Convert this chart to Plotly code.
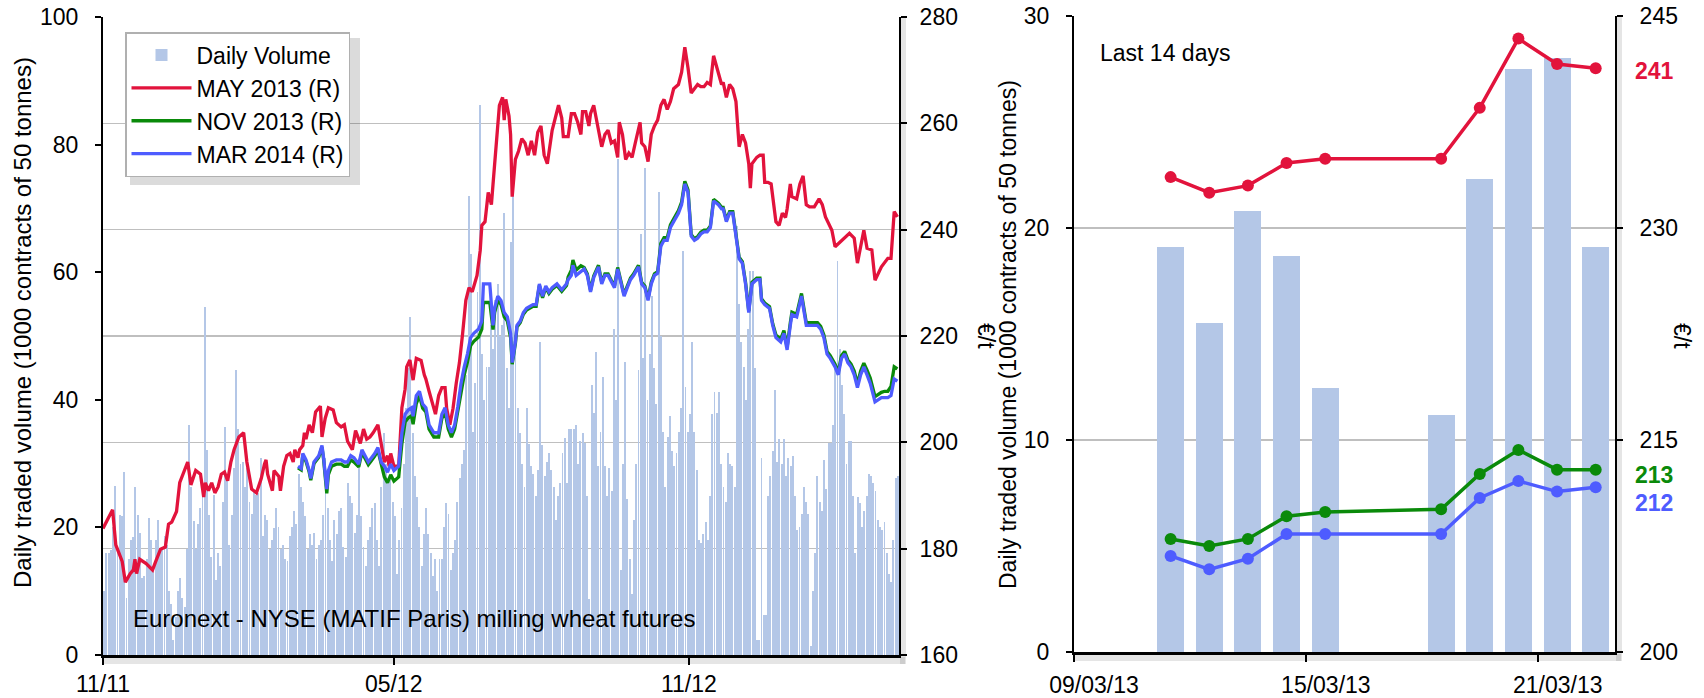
import pandas as pd
import plotly.graph_objects as go

W, H = 1704, 698
FONT = "Liberation Sans, Arial, Helvetica, sans-serif"

BAR = "#B4C7E7"
RED = "#E2133C"
GREEN = "#0A8A0A"
BLUE = "#4E5CFF"
GRID = "#BFBFBF"

# ---------------- left chart data ----------------
start_date = "2011-11-01"
axis_end_date = "2013-03-13"
left_tick_dates = ["2011-11-01", "2012-05-01", "2012-11-01"]
left_tick_labels = ["11/11", "05/12", "11/12"]

# daily traded volume (1000 contracts), one value per trading day from 2011-11-01
daily_volume = [
    10, 16, 16, 16.5, 20, 26.5, 17, 22, 21.8, 28.7,
    9, 15, 18, 18.5, 26.4, 22, 19.2, 12, 12.4, 15,
    21.5, 18, 14, 18, 21.2, 16.6, 17, 18.6, 17.3, 10,
    8, 2.3, 6, 10.1, 12, 9, 7.5, 16.6, 36.1, 26.4,
    21, 16.6, 20.5, 23, 25.7, 54.6, 32.2, 22, 15.3, 25.1,
    11.8, 16, 14, 24, 35.8, 27.7, 17.3, 22, 29.3, 44.6,
    35.5, 30, 30.3, 26.4, 29.3, 24, 22.1, 25.7, 25.1, 25.4,
    30.9,
    18.6, 22, 21.2, 16.6, 18, 19.9, 23.1, 20, 16.6, 17.3,
    15, 14.7, 18.6, 20, 22.5, 20.5, 28.3, 26.4, 24, 21.8,
    16.6, 19, 17.3, 19.2, 15, 17.3, 18, 22, 30.9, 23.1,
    18, 14.7, 21.2, 19, 22.5, 23.1, 17, 15.3, 27, 25,
    23.8, 19.2, 22, 29.6, 21.8, 17, 14, 18, 20, 23.1,
    23.8, 18, 14, 26.4, 34.8, 30, 27.7, 27.7, 24, 21.8,
    12.7, 18, 23.1, 30, 38.7, 45, 53, 34.8, 28,
    24.8, 20, 14, 19, 23.1, 18.9, 16, 12.4, 15, 10,
    15, 15, 20, 23.8, 22.1, 13.4, 16, 18, 24, 27.7,
    30, 32.2, 43.9, 71.9, 62.8, 35, 42.6, 56.9, 86.2, 47.2,
    40, 45.2, 45.2, 51.7, 48, 55.6, 58.2, 50, 51.7, 69.3,
    45, 38.7, 64.7, 71.9, 50, 38.7, 34.8, 30, 26.4, 38.7,
    33, 29.6, 28.3, 25, 29, 49.1, 32.9, 28, 30.3, 31.6,
    29, 26.4, 21.2, 25, 27, 31.6, 34, 27, 35.5,
    35.5, 35.5, 36.1, 30, 33.5, 34.8, 33.2, 25, 8.8, 42.3,
    38, 47.5, 29.6, 35, 43.6, 29.6, 25, 29.3, 25.7, 51.1,
    40, 77.7, 13.4, 30, 45.9, 24.4, 15, 9.5, 21.2, 30,
    44.6, 66, 46.5, 76.4, 40, 47.2, 56.3, 45, 39.4, 72.5,
    50, 35, 26.4, 34.2, 37.4, 32, 29.6, 31.6, 35, 38.7,
    63.4, 42, 35, 37.7, 49.1, 35, 29, 18, 17.6, 19,
    20.8, 18, 25, 37.7, 41.3, 38, 41.3, 30, 26.4, 24,
    31.6, 30, 29.6, 26.4, 67.3, 55, 49.1, 45.2, 40, 51.1,
    60.2, 60.2, 45, 2.3, 2.3, 30.9, 6.2, 6.2, 25, 28,
    31.9, 41.6, 30.3, 33.8, 30, 33.8, 28, 30.9, 29.6, 31.2,
    25, 19.6, 20, 22.1, 26.4, 24, 22.1, 1.4, 10, 16,
    28, 24, 22.5, 30.6, 26, 33.2, 33.2, 36, 45.9, 61.8,
    48, 42.3, 37.7, 30, 33.5, 33.5, 25, 16, 24.8, 23.8,
    20, 22.5, 25, 28.3, 28, 27, 25.7, 21.2, 20, 19.6,
    20.8, 16, 12.7, 11.5, 18, 27.7, 28,
]

# MAY 2013 contract (EUR/t): day offset from start_date, price
may13_day = [
    0, 6, 8, 12, 14, 17, 19, 20, 21, 23,
    27, 31, 33, 36, 39, 41, 43, 46, 48, 51,
    53, 55, 57, 58, 61, 63, 64, 66, 68, 70,
    72, 74, 76, 78, 80, 82, 85, 88, 90, 93,
    96, 99, 101, 102, 103, 105, 106, 107, 110, 111,
    113, 115, 117, 119, 120, 122, 123, 125, 126, 127,
    129, 131, 133, 136, 137, 139, 141, 144, 146, 149,
    151, 153, 156, 158, 161, 163, 165, 167, 169, 172,
    174, 176, 178, 179, 180, 182, 185, 187, 189, 190,
    192, 194, 196, 199, 201, 202, 204, 206, 208, 210,
    212, 214, 215, 217, 219, 221, 223, 225, 227, 229,
    231, 234, 236, 237, 239, 241, 243, 244, 246, 248,
    250, 251, 252, 254, 255, 256, 258, 260, 262, 264,
    266, 268, 270, 272, 274, 276, 278, 281, 285, 287,
    288, 291, 293, 295, 297, 299, 300, 302, 304, 305,
    307, 310, 312, 314, 316, 318, 320, 322, 323, 325,
    327, 329, 331, 333, 336, 337, 339, 341, 343, 345,
    347, 349, 351, 353, 355, 357, 360, 362, 364, 366,
    368, 370, 372, 374, 376, 378, 380, 382, 385, 387,
    388, 390, 392, 394, 396, 397, 398, 400, 402, 404,
    405, 406, 409, 411, 413, 414, 416, 418, 419, 421,
    423, 425, 427, 428, 430, 431, 434, 436, 438, 440,
    442, 445, 448, 450, 452, 456, 458, 463, 467, 470,
    472, 476, 478, 481, 483, 487, 491, 493, 495, 497,
]
may13_price = [
    183.8, 187.3, 180.7, 177.6, 173.7, 175.3, 176.0, 178.0, 175.3, 178.0,
    177.2, 176.0, 177.6, 179.9, 180.3, 184.6, 185.0, 187.0, 192.4, 194.7,
    196.3, 192.0, 194.0, 194.7, 194.0, 189.7, 192.4, 190.9, 192.4, 190.5,
    191.6, 194.0, 194.4, 192.8, 196.3, 198.6, 201.0, 201.8, 196.3, 191.2,
    190.5, 193.2, 195.9, 196.7, 194.0, 191.6, 190.9, 194.7, 193.6, 190.9,
    195.5, 197.5, 197.9, 196.3, 198.6, 197.1, 198.6, 199.4, 201.8, 200.6,
    203.3, 201.8, 205.7, 206.8, 201.0, 204.5, 206.5, 206.1, 203.7, 202.9,
    203.3, 200.2, 198.6, 202.2, 199.8, 202.5, 200.6, 201.0, 201.8, 203.3,
    199.4, 196.3, 197.5, 195.5, 197.9, 195.5, 195.5, 206.5, 210.0, 214.2,
    215.5, 211.7, 215.8, 215.4, 212.7, 211.9, 209.6, 207.6, 205.3, 208.8,
    210.3, 210.3, 206.4, 203.3, 206.4, 211.1, 215.0, 220.5, 226.7, 229.1,
    228.3, 231.4, 236.1, 240.8, 241.5, 247.0, 244.7, 248.5, 255.6, 263.4,
    264.9, 260.6, 264.5, 261.4, 257.9, 246.2, 253.2, 254.8, 257.1, 256.3,
    254.0, 256.7, 254.0, 258.3, 259.5, 254.0, 252.4, 258.7, 263.4, 261.0,
    257.5, 257.5, 261.8, 261.8, 260.2, 257.9, 262.2, 262.2, 259.5, 261.8,
    263.4, 259.1, 255.6, 257.9, 258.7, 256.3, 256.7, 253.6, 260.2, 257.9,
    253.2, 254.4, 253.6, 256.3, 260.2, 256.3, 255.6, 252.8, 257.9, 259.5,
    260.6, 263.4, 264.5, 262.6, 264.1, 266.5, 267.3, 269.6, 274.3, 270.4,
    265.7, 266.5, 267.3, 266.9, 266.9, 267.7, 267.3, 272.7, 269.6, 267.3,
    267.7, 264.9, 267.3, 266.5, 264.1, 258.7, 255.6, 257.9, 256.3, 252.4,
    247.8, 252.4, 253.6, 254.0, 254.0, 248.9, 248.9, 248.6, 245.8, 241.5,
    240.8, 243.1, 242.3, 243.9, 248.6, 246.2, 245.8, 248.6, 250.1, 244.7,
    244.3, 244.3, 245.8, 244.7, 242.4, 239.9, 236.8, 238.1, 239.3, 238.4,
    233.7, 239.9, 236.5, 236.2, 230.5, 233.0, 234.6, 234.6, 243.4, 242.4,
]

# NOV 2013 and MAR 2014 contracts (EUR/t), shared day offsets
later_day = [
    122, 124, 125, 127, 129, 130, 132, 135, 137, 138,
    140, 141, 143, 146, 149, 151, 153, 155, 157, 160,
    162, 164, 166, 168, 170, 172, 174, 176, 178, 180,
    182, 185, 187, 189, 191, 193, 194, 196, 198, 200,
    202, 204, 207, 210, 212, 214, 216, 218, 220, 222,
    224, 226, 228, 230, 232, 235, 237, 238, 240, 242,
    244, 245, 247, 249, 251, 253, 255, 256, 258, 259,
    261, 263, 265, 267, 269, 271, 273, 275, 277, 279,
    281, 284, 287, 290, 291, 293, 294, 296, 299, 301,
    303, 305, 307, 310, 312, 314, 316, 318, 320, 322,
    324, 326, 328, 330, 332, 335, 337, 339, 341, 343,
    345, 347, 349, 351, 353, 355, 357, 360, 362, 364,
    366, 368, 370, 372, 374, 376, 378, 380, 382, 385,
    387, 388, 390, 392, 394, 396, 398, 400, 402, 404,
    406, 409, 411, 412, 414, 417, 419, 421, 424, 426,
    428, 430, 431, 434, 437, 440, 443, 447, 449, 451,
    453, 455, 458, 460, 462, 464, 466, 468, 470, 472,
    474, 476, 478, 480, 483, 485, 487, 489, 491, 493,
    495, 497,
]
nov13_price = [
    195.2, 194.8, 197.6, 196.4, 194.4, 192.9, 196.0, 197.2, 199.1, 196.8,
    190.4, 193.9, 195.5, 195.9, 195.9, 195.5, 195.5, 196.7, 196.3, 195.4,
    198.1, 197.0, 195.8, 196.6, 197.4, 198.5, 195.8, 193.5, 192.4, 193.9,
    192.7, 193.5, 199.8, 203.8, 204.6, 205.0, 203.4, 207.3, 208.8, 206.4,
    205.7, 202.5, 201.0, 201.0, 204.5, 205.7, 202.5, 201.0, 202.5, 206.0,
    209.6, 212.7, 215.1, 218.2, 219.0, 219.8, 221.3, 226.3, 226.3, 226.3,
    221.2, 224.4, 226.7, 225.9, 223.6, 222.8, 219.7, 214.7, 218.6, 221.7,
    222.5, 224.1, 224.9, 225.3, 225.6, 225.6, 229.5, 227.2, 229.1, 228.0,
    228.8, 229.5, 228.4, 229.5, 231.1, 232.4, 234.3, 232.4, 233.2, 232.9,
    231.7, 228.6, 231.3, 233.3, 230.1, 231.7, 231.7, 230.5, 229.4, 232.9,
    230.1, 227.8, 229.4, 230.9, 231.7, 233.3, 230.1, 229.4, 227.0, 230.1,
    231.7, 232.1, 237.4, 238.5, 238.5, 240.9, 242.0, 243.6, 245.2, 249.1,
    247.5, 239.1, 238.3, 238.7, 239.5, 239.9, 239.9, 240.7, 245.7, 245.0,
    244.2, 244.2, 241.8, 243.4, 243.4, 239.5, 234.8, 234.0, 230.1, 224.7,
    230.1, 230.9, 230.9, 227.0, 226.2, 225.5, 222.3, 220.2, 219.4, 221.0,
    217.9, 222.5, 224.5, 224.1, 228.0, 222.5, 222.5, 222.5, 221.8, 220.2,
    217.1, 216.3, 214.7, 213.2, 216.3, 217.1, 215.5, 214.7, 213.4, 211.0,
    213.4, 214.9, 213.6, 212.1, 208.6, 209.0, 209.4, 209.6, 209.6, 210.5,
    214.2, 213.8,
]
mar14_price = [
    195.5, 195.1, 197.9, 196.7, 194.7, 193.2, 196.3, 197.5, 199.4, 197.1,
    191.2, 194.7, 196.3, 196.7, 196.7, 196.3, 196.3, 197.5, 197.1, 195.9,
    198.6, 197.5, 196.3, 197.1, 197.9, 199.0, 196.3, 195.5, 194.4, 195.9,
    194.7, 195.5, 201.8, 205.3, 206.1, 206.5, 204.9, 208.8, 209.6, 207.2,
    206.5, 203.3, 201.8, 201.8, 205.3, 206.5, 203.3, 201.8, 203.3, 206.8,
    211.1, 214.2, 216.6, 219.7, 220.5, 221.3, 222.8, 229.8, 229.8, 229.8,
    222.0, 225.2, 227.5, 226.7, 224.4, 223.6, 220.5, 215.0, 218.9, 222.0,
    222.8, 224.4, 225.2, 225.6, 225.9, 225.9, 229.8, 227.5, 229.4, 228.3,
    229.1, 229.8, 228.7, 229.8, 230.6, 231.4, 233.3, 231.4, 232.2, 232.6,
    231.4, 228.3, 231.0, 233.0, 229.8, 231.4, 231.4, 230.2, 229.1, 232.6,
    229.8, 227.5, 229.1, 230.6, 231.4, 233.0, 229.8, 229.1, 226.7, 229.8,
    231.4, 231.8, 236.9, 238.0, 238.0, 240.4, 241.5, 243.1, 244.7, 248.6,
    247.0, 238.8, 238.0, 238.4, 239.2, 239.6, 239.6, 240.4, 245.4, 244.7,
    243.9, 243.9, 241.5, 243.1, 243.1, 239.2, 234.5, 233.7, 229.8, 224.4,
    229.8, 230.6, 230.6, 226.7, 225.9, 225.2, 222.0, 219.7, 218.9, 220.5,
    217.4, 222.0, 224.0, 223.6, 227.5, 222.0, 222.0, 222.0, 221.3, 219.7,
    216.6, 215.8, 214.2, 212.7, 215.8, 216.6, 215.0, 214.2, 212.7, 210.3,
    212.7, 214.2, 212.7, 211.1, 207.6, 208.0, 208.4, 208.4, 208.4, 208.8,
    211.9, 211.5,
]

# ---------------- right chart data (last 14 days) ----------------
last_dates = ["2013-03-11", "2013-03-12", "2013-03-13", "2013-03-14", "2013-03-15",
              "2013-03-18", "2013-03-19", "2013-03-20", "2013-03-21", "2013-03-22"]
last_volume = [19.1, 15.5, 20.8, 18.7, 12.45, 11.2, 22.3, 27.5, 28.0, 19.1]
last_may13 = [233.6, 232.5, 233.0, 234.6, 234.9, 234.9, 238.5, 243.4, 241.6, 241.3]
last_nov13 = [208.0, 207.5, 208.0, 209.6, 209.9, 210.1, 212.6, 214.3, 212.9, 212.9]
last_mar14 = [206.8, 205.85, 206.6, 208.35, 208.35, 208.35, 210.9, 212.1, 211.35, 211.65]
right_range = ["2013-03-09", "2013-03-23"]
right_tick_dates = ["2013-03-09", "2013-03-15", "2013-03-21"]
right_tick_labels = ["09/03/13", "15/03/13", "21/03/13"]

# ---------------- helpers ----------------
def px(x):
    return x / W


def py(y):
    return 1 - y / H


DAY_MS = 86400000
t0 = pd.Timestamp(start_date)
vol_dates = pd.bdate_range(start_date, periods=len(daily_volume)) + pd.Timedelta(hours=12)
may_dates = t0 + pd.to_timedelta(may13_day, unit="D")
later_dates = t0 + pd.to_timedelta(later_day, unit="D")

fig = go.Figure()

# left chart: bars on a trading-day axis (weekends removed), prices on a calendar axis
fig.add_trace(go.Bar(x=vol_dates, y=daily_volume, name="Daily Volume",
                     marker=dict(color=BAR, line=dict(width=0)),
                     width=0.85 * DAY_MS, xaxis="x", yaxis="y"))
fig.add_trace(go.Scatter(x=may_dates, y=may13_price, name="MAY 2013 (R)", mode="lines",
                         line=dict(color=RED, width=3.3), xaxis="x3", yaxis="y2"))
fig.add_trace(go.Scatter(x=later_dates, y=nov13_price, name="NOV 2013 (R)", mode="lines",
                         line=dict(color=GREEN, width=3.3), xaxis="x3", yaxis="y2"))
fig.add_trace(go.Scatter(x=later_dates, y=mar14_price, name="MAR 2014 (R)", mode="lines",
                         line=dict(color=BLUE, width=3.3), xaxis="x3", yaxis="y2"))

# right chart
fig.add_trace(go.Bar(x=last_dates, y=last_volume, name="Daily Volume", showlegend=False,
                     xperiod=DAY_MS, xperiodalignment="middle", width=0.7 * DAY_MS,
                     marker=dict(color=BAR, line=dict(width=0)), xaxis="x2", yaxis="y3"))
for vals, col, nm in [(last_may13, RED, "MAY 2013 (R)"), (last_nov13, GREEN, "NOV 2013 (R)"),
                      (last_mar14, BLUE, "MAR 2014 (R)")]:
    fig.add_trace(go.Scatter(x=last_dates, y=vals, name=nm, showlegend=False, mode="lines+markers",
                             xperiod=DAY_MS, xperiodalignment="middle",
                             line=dict(color=col, width=3.5), marker=dict(color=col, size=12),
                             xaxis="x2", yaxis="y4"))

tickfont = dict(size=23, color="black", family=FONT)
base = dict(showline=True, linecolor="black", linewidth=2, ticks="outside", tickcolor="black",
            tickwidth=2, ticklen=6, tickfont=tickfont, zeroline=False, automargin=False)

fig.update_layout(
    width=W, height=H, autosize=False,
    margin=dict(l=0, r=0, t=0, b=0),
    paper_bgcolor="white", plot_bgcolor="white",
    font=dict(family=FONT, size=23, color="black"),
    hovermode=False,
    xaxis=dict(base, type="date", domain=[px(103), px(899)], anchor="y",
               range=[start_date, axis_end_date], rangebreaks=[dict(bounds=["sat", "mon"])],
               tickvals=left_tick_dates, ticktext=left_tick_labels, showgrid=False,
               ticklen=7, linewidth=2.5, ticklabelstandoff=0),
    xaxis3=dict(type="date", overlaying="x", anchor="y2", range=[start_date, axis_end_date],
                visible=False, showgrid=False, zeroline=False),
    yaxis=dict(base, domain=[py(655), py(17)], anchor="x", range=[0, 100], dtick=20, tick0=0,
               showgrid=False, ticklabelstandoff=12),
    yaxis2=dict(base, overlaying="y", side="right", anchor="x", range=[160, 280], dtick=20,
                tick0=160, showgrid=True, gridcolor=GRID, gridwidth=1.5, ticklabelstandoff=8),
    xaxis2=dict(base, type="date", domain=[px(1074), px(1615)], anchor="y3",
                range=right_range, tickvals=right_tick_dates, ticktext=right_tick_labels,
                showgrid=False, ticklen=7, linewidth=2.5, ticklabelstandoff=4,
                ticklabelshift=20),
    yaxis3=dict(base, domain=[py(652), py(16)], anchor="x2", range=[0, 30], dtick=10, tick0=0,
                showgrid=True, gridcolor=GRID, gridwidth=1.5, ticklabelstandoff=12),
    yaxis4=dict(base, overlaying="y3", side="right", anchor="x2", range=[200, 245], dtick=15,
                tick0=200, showgrid=False, ticklabelstandoff=12),
    showlegend=True,
    legend=dict(x=px(125), y=py(32), xanchor="left", yanchor="top", bgcolor="white",
                bordercolor="#B0B0B0", borderwidth=1.5, font=dict(size=23, family=FONT),
                traceorder="normal", tracegroupgap=0, itemwidth=60),
    bargap=0,
)

def shadow(x0, y0, x1, y1, a=0.10):
    return dict(type="rect", xref="paper", yref="paper", x0=px(x0), x1=px(x1),
                y0=py(y1), y1=py(y0), fillcolor=f"rgba(0,0,0,{a})", line=dict(width=0),
                layer="above")

fig.update_layout(shapes=[
    shadow(103, 657, 905, 664),
    shadow(900, 17, 906, 664),
    shadow(1074, 654, 1621, 661),
    shadow(1616, 16, 1622, 661),
    shadow(130, 38, 360, 185, 0.14),
])

ann = [
    dict(text="Euronext - NYSE (MATIF Paris) milling wheat futures", x=px(131), y=py(618),
         xanchor="left", yanchor="middle", size=24),
    dict(text="Daily traded volume (1000 contracts of 50 tonnes)", x=px(22), y=py(323),
         textangle=-90, xanchor="center", yanchor="middle", size=24),
    dict(text="€/t", x=px(986), y=py(336), textangle=90, xanchor="center", yanchor="middle",
         size=23),
    dict(text="Daily traded volume (1000 contracts of 50 tonnes)", x=px(1008), y=py(335),
         textangle=-90, xanchor="center", yanchor="middle", size=23),
    dict(text="Last 14 days", x=px(1098), y=py(53), xanchor="left", yanchor="middle", size=23),
    dict(text="€/t", x=px(1682), y=py(336), textangle=90, xanchor="center", yanchor="middle",
         size=23),
]
for a in ann:
    sz = a.pop("size")
    a.update(xref="paper", yref="paper", showarrow=False,
             font=dict(size=sz, family=FONT, color="black"))

end_labels = [(last_may13[-1], RED, -3), (last_nov13[-1], GREEN, -5), (last_mar14[-1], BLUE, -16)]
for val, col, shift in end_labels:
    ann.append(dict(text=f"<b>{val:.0f}</b>", xref="paper", yref="y4", x=px(1633), y=val,
                    yshift=shift, xanchor="left", yanchor="middle", showarrow=False,
                    font=dict(size=23, family=FONT, color=col)))

fig.update_layout(annotations=ann)

fig.write_html("out.html", config={"displayModeBar": False, "staticPlot": True},
               post_script="document.body.style.margin='0px';document.body.style.overflow='hidden';")
